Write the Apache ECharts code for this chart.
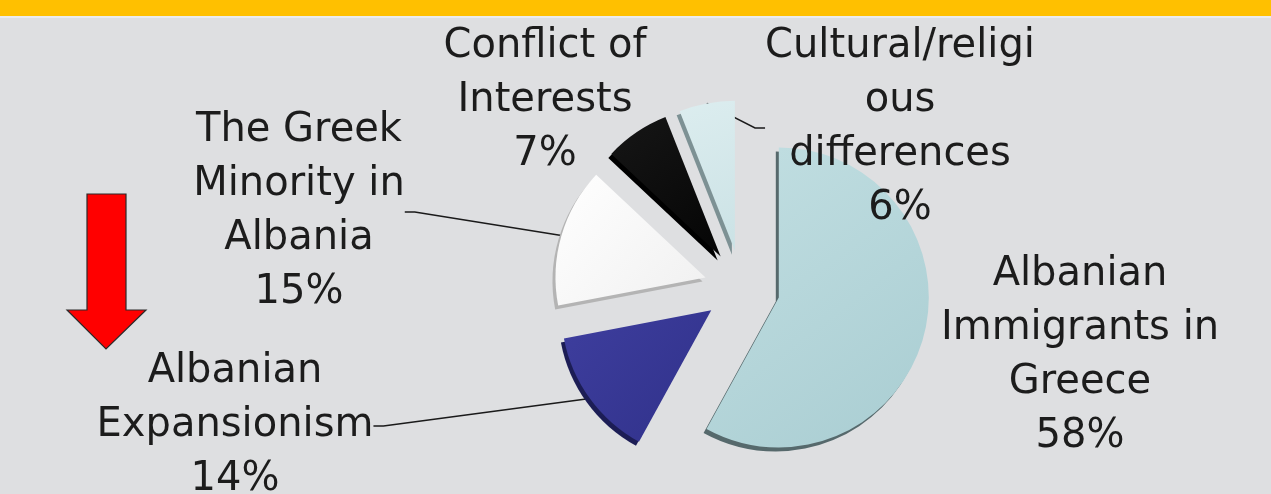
<!DOCTYPE html>
<html>
<head>
<meta charset="utf-8">
<script src="https://cdn.jsdelivr.net/npm/echarts@6/dist/echarts.min.js"></script>
<style>
html,body{margin:0;padding:0;background:#dedfe1;}
#chart{width:1271px;height:494px;}
</style>
</head>
<body>
<div id="chart"></div>
<script>
// ---- data ----
const categories = ['Albanian Immigrants in Greece', 'Albanian Expansionism', 'The Greek Minority in Albania', 'Conflict of Interests', 'Cultural/religious differences'];
const values = [58, 14, 15, 7, 6];
const labelTexts = ['Albanian\nImmigrants in\nGreece', 'Albanian\nExpansionism', 'The Greek\nMinority in\nAlbania', 'Conflict of\nInterests', 'Cultural/religi\nous\ndifferences'];

// ---- styling / layout ----
const sliceColors = [
  ['#c2dfe2', '#a9cdd2'],
  ['#3e3e9e', '#30318a'],
  ['#ffffff', '#f0f0f0'],
  ['#161616', '#050505'],
  ['#dcedef', '#cbe2e5']
];
const shadowColors = ['#56696c', '#1c1d55', '#b4b4b4', '#000000', '#7d9194'];
const showLine = [false, true, true, false, true];
// text block centres
const labelPos = [[1080, 356], [235, 426], [299, 212], [545, 101], [900, 128]];
const pieCenter = [742, 288];
const pieRadius = 150;
const explode = 38;

const chart = echarts.init(document.getElementById('chart'), null, {renderer: 'canvas'});

const total = values.reduce((a, b) => a + b, 0);
let cum = 0;
const series = values.map((v, i) => {
  const theta = 2 * Math.PI * (cum + v / 2) / total; // clockwise from 12 o'clock
  cum += v;
  const center = [pieCenter[0] + explode * Math.sin(theta), pieCenter[1] - explode * Math.cos(theta)];
  const data = categories.map((c, j) => {
    if (j !== i) {
      return {name: c, value: values[j], itemStyle: {color: 'rgba(0,0,0,0)', shadowBlur: 0, shadowColor: 'rgba(0,0,0,0)'},
        label: {show: false}, labelLine: {show: false}};
    }
    return {
      name: c,
      value: values[j],
      itemStyle: {
        color: {type: 'linear', x: 0, y: 0, x2: 1, y2: 1, colorStops: [
          {offset: 0, color: sliceColors[j][0]}, {offset: 1, color: sliceColors[j][1]}]},
        shadowColor: shadowColors[j],
        shadowBlur: 0,
        shadowOffsetX: -3,
        shadowOffsetY: 4
      },
      labelLine: {show: showLine[j]}
    };
  });
  return {
    type: 'pie',
    name: categories[i],
    center: center,
    radius: [0, pieRadius],
    startAngle: 90,
    clockwise: true,
    avoidLabelOverlap: false,
    silent: true,
    emphasis: {disabled: true},
    data: data,
    label: {
      show: true,
      position: 'outside',
      formatter: p => labelTexts[p.dataIndex] + '\n' + p.value + '%',
      fontFamily: 'DejaVu Sans, sans-serif',
      fontSize: 40,
      lineHeight: 54,
      color: '#1c1c1c'
    },
    labelLine: {
      show: true,
      length: 10,
      length2: 10,
      lineStyle: {color: '#1a1a1a', width: 1.5}
    },
    labelLayout: function (params) {
      if (params.dataIndex !== i) return {};
      const p = labelPos[params.dataIndex];
      return {x: p[0], y: p[1], align: 'center', verticalAlign: 'middle'};
    }
  };
});

chart.setOption({
  backgroundColor: '#dedfe1',
  animation: false,
  graphic: [
    {type: 'rect', left: 0, top: 0, shape: {width: 1271, height: 16}, style: {fill: '#ffc000'}},
    {type: 'rect', left: 0, top: 16, shape: {width: 1271, height: 2}, style: {fill: '#ececec'}},
    {type: 'polygon', shape: {points: [[87, 194], [126, 194], [126, 310], [146, 310], [106, 349], [67, 310], [87, 310]]},
      style: {fill: '#ff0000', stroke: '#2a2a2a', lineWidth: 1.2}}
  ],
  series: series
});
</script>
</body>
</html>
